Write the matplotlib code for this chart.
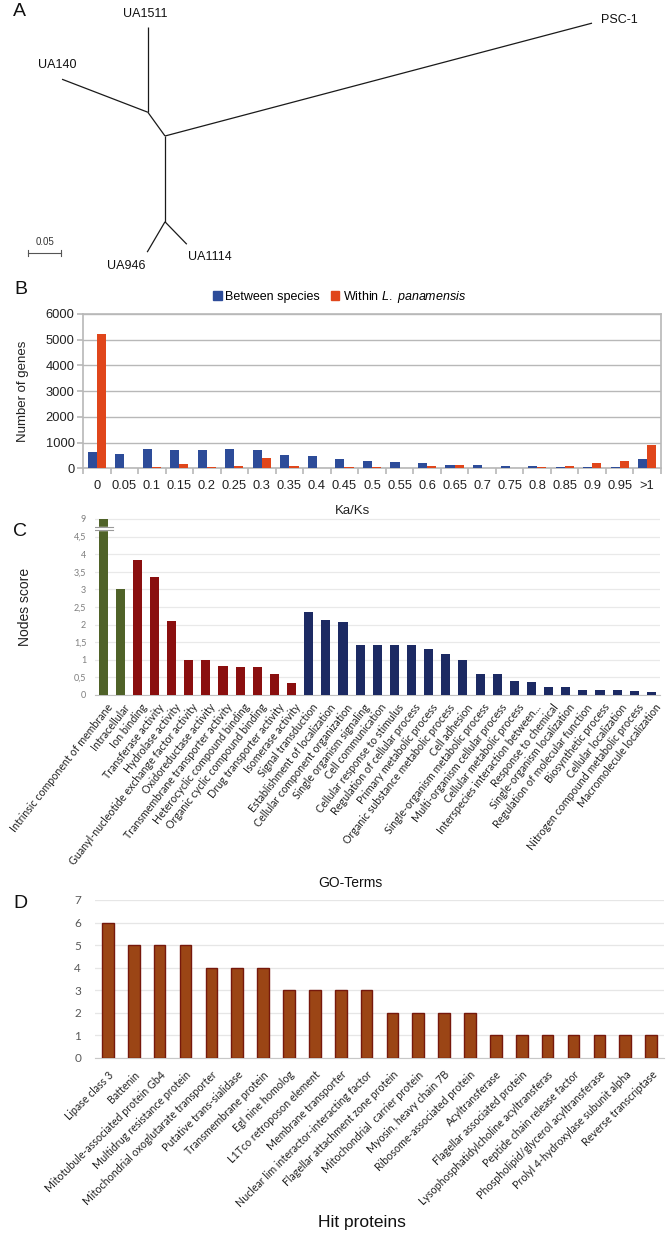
import matplotlib
matplotlib.use('Agg')
import matplotlib.pyplot as plt
import matplotlib.transforms as mtransforms
from matplotlib.patches import Patch
import numpy as np

W, H, DPI = 666, 1235, 100
plt.rcParams['font.family'] = ['Liberation Sans', 'DejaVu Sans']
plt.rcParams['mathtext.fontset'] = 'custom'
plt.rcParams['mathtext.it'] = 'Liberation Sans:italic'
plt.rcParams['mathtext.rm'] = 'Liberation Sans'

# ---------------- data ----------------
# Panel A: unrooted tree (node coordinates in substitutions/site)
tree_names = ['c', 'n1', 'UA1511', 'UA140', 'PSC-1', 'n3', 'UA946', 'UA1114']
tree_x = [0.0, -0.026, -0.026, -0.156, 0.647, 0.0, -0.027, 0.033]
tree_y = [0.0, 0.036, 0.165, 0.086, 0.171, -0.130, -0.176, -0.164]
tree_parent = [None, 'c', 'n1', 'n1', 'c', 'c', 'n3', 'n3']
scale_len = 0.05

# Panel B: Ka/Ks distribution
ks_labels = ['0', '0.05', '0.1', '0.15', '0.2', '0.25', '0.3', '0.35', '0.4', '0.45',
             '0.5', '0.55', '0.6', '0.65', '0.7', '0.75', '0.8', '0.85', '0.9', '0.95', '>1']
between = [640, 565, 735, 720, 715, 735, 700, 525, 490, 370,
           300, 230, 215, 150, 125, 90, 75, 70, 60, 35, 375]
within = [5230, 25, 70, 170, 45, 85, 400, 85, 12, 45,
          50, 25, 80, 115, 30, 12, 40, 110, 225, 300, 915]

# Panel C: GO term node scores
go_terms = ['Intrinsic component of membrane', 'Intracellular', 'Ion binding',
            'Transferase activity', 'Hydrolase activity',
            'Guanyl-nucleotide exchange factor activity', 'Oxidoreductase activity',
            'Transmembrane transporter activity', 'Heterocyclic compound binding',
            'Organic cyclic compound binding', 'Drug transporter activity',
            'Isomerase activity', 'Signal transduction', 'Establishment of localization',
            'Cellular component organization', 'Single organism signaling',
            'Cell communication', 'Cellular response to stimulus',
            'Regulation of cellular process', 'Primary metabolic process',
            'Organic substance metabolic process', 'Cell adhesion',
            'Single-organism metabolic process', 'Multi-organism cellular process',
            'Cellular metabolic process', 'Interspecies interaction between...',
            'Response to chemical', 'Single-organism localization',
            'Regulation of molecular function', 'Biosynthetic process',
            'Cellular localization', 'Nitrogen compound metabolic process',
            'Macromolecule localization']
go_scores = [9, 3.0, 3.84, 3.34, 2.11, 1.0, 1.0, 0.82, 0.8, 0.8, 0.6, 0.35,
             2.35, 2.14, 2.08, 1.42, 1.41, 1.42, 1.42, 1.3, 1.16, 1.0,
             0.6, 0.6, 0.4, 0.36, 0.22, 0.22, 0.14, 0.14, 0.13, 0.12, 0.08]
go_groups = ['CC'] * 2 + ['MF'] * 10 + ['BP'] * 21
go_ticks = [0, 0.5, 1, 1.5, 2, 2.5, 3, 3.5, 4, 4.5, 9]
go_ticklabels = ['0', '0,5', '1', '1,5', '2', '2,5', '3', '3,5', '4', '4,5', '9']

# Panel D: hit proteins
hit_proteins = ['Lipase class 3', 'Battenin', 'Mitotubule-associated protein Gb4',
                'Multidrug resistance protein', 'Mitochondrial oxoglutarate transporter',
                'Putative trans-sialidase', 'Transmembrane protein', 'Egl nine homolog',
                'L1Tco retroposon element', 'Membrane transporter',
                'Nuclear lim interactor-interacting factor',
                'Flagellar attachment zone protein', 'Mitochondrial  carrier protein',
                'Myosin, heavy chain 7B', 'Ribosome-associated protein', 'Acyltransferase',
                'Flagellar associated protein', 'Lysophosphatidylcholine acyltransferas',
                'Peptide chain release factor', 'Phospholipid/glycerol acyltransferase',
                'Prolyl 4-hydroxylase subunit alpha', 'Reverse transcriptase']
hit_counts = [6, 5, 5, 5, 4, 4, 4, 3, 3, 3, 3, 2, 2, 2, 2, 1, 1, 1, 1, 1, 1, 1]


def box(l, t, r, b):
    return [l / W, 1 - b / H, (r - l) / W, (b - t) / H]


fig = plt.figure(figsize=(W / DPI, H / DPI), dpi=DPI)
fig.patch.set_facecolor('white')

# ---------------- Panel A ----------------
axA = fig.add_axes([0, 0, 1, 1], zorder=-1)
px = 660.0  # pixels per unit
cx, cy = 165, 136
axA.set_xlim(-cx / px, (W - cx) / px)
axA.set_ylim(-(H - cy) / px, cy / px)
axA.axis('off')
idx = {n: i for i, n in enumerate(tree_names)}
for i, p in enumerate(tree_parent):
    if p is None:
        continue
    j = idx[p]
    axA.plot([tree_x[j], tree_x[i]], [tree_y[j], tree_y[i]], color='#1a1a1a', lw=0.9,
             solid_capstyle='butt')
label_off = {'UA1511': (-2, 9.5), 'UA140': (-3.6, 10), 'PSC-1': (20, 2.2),
             'UA946': (-15, -10), 'UA1114': (16.5, -9.4)}
for n, (ox, oy) in label_off.items():
    i = idx[n]
    axA.annotate(n, (tree_x[i], tree_y[i]), xytext=(ox, oy), textcoords='offset points',
                 ha='center', va='center', fontsize=9, color='#111111')
sb_x0 = (28 - cx) / px
sb_y = -(253 - cy) / px
axA.plot([sb_x0, sb_x0 + scale_len], [sb_y, sb_y], color='#555555', lw=0.8)
for xx in (sb_x0, sb_x0 + scale_len):
    axA.plot([xx, xx], [sb_y - 0.004, sb_y + 0.004], color='#555555', lw=0.8)
axA.annotate('0.05', (sb_x0 + scale_len / 2, sb_y), xytext=(0, 4), textcoords='offset points',
             ha='center', va='bottom', fontsize=7, color='#333333')

# panel letters
for letter, (lx, ly) in {'A': (19, 12), 'B': (21, 289), 'C': (20, 532), 'D': (20, 903)}.items():
    fig.text(lx / W, 1 - ly / H, letter, fontsize=14, ha='center', va='center', color='#111111')

# ---------------- Panel B ----------------
axB = fig.add_axes(box(83, 314, 661, 468.4))
xb = np.arange(len(ks_labels))
wb = 0.33
axB.bar(xb - wb / 2, between, wb, color='#2d4c99', zorder=3)
axB.bar(xb + wb / 2, within, wb, color='#e0461b', zorder=3)
axB.set_xlim(-0.5, len(xb) - 0.5)
axB.set_ylim(0, 6000)
axB.set_yticks(range(0, 6001, 1000))
axB.grid(axis='y', color='#b8b8b8', lw=1.0, zorder=0)
for s in axB.spines.values():
    s.set_color('#b8b8b8')
    s.set_linewidth(1.2)
axB.set_xticks(xb)
axB.set_xticklabels(ks_labels, fontsize=9.3, color='#222222')
axB.set_xticks(np.arange(-0.5, len(xb)), minor=True)
axB.tick_params(axis='x', which='major', length=0, pad=8)
axB.tick_params(axis='x', which='minor', length=4, color='#b8b8b8', width=1.2)
axB.tick_params(axis='y', length=4, color='#b8b8b8', width=1.2, labelsize=9.3,
                labelcolor='#222222', pad=2)
fig.text(23 / W, 1 - 391 / H, 'Number of genes', rotation=90, fontsize=9.5,
         ha='center', va='center', color='#222222')
fig.text(353 / W, 1 - 511 / H, 'Ka/Ks', fontsize=9.5, ha='center', va='center', color='#222222')
handles = [Patch(color='#2d4c99'), Patch(color='#e0461b')]
fig.legend(handles, ['Between species', r'Within $\mathit{L.\ panamensis}$'],
           loc='center', bbox_to_anchor=(340 / W, 1 - 297 / H), ncol=2, frameon=False,
           fontsize=9, handlelength=0.65, handleheight=0.65, handletextpad=0.3,
           columnspacing=0.9, borderaxespad=0)

# ---------------- Panel C ----------------
brk_low, brk_top = 4.5, 5.0


def broken(v):
    return v if v <= brk_low else brk_top


axC = fig.add_axes(box(94.5, 517.2, 660, 695))
xc = np.arange(len(go_terms))
group_colors = {'CC': '#4f6228', 'MF': '#8a0f0f', 'BP': '#1c2a63'}
axC.bar(xc, [broken(v) for v in go_scores], 0.53,
        color=[group_colors[g] for g in go_groups], zorder=3)
axC.set_xlim(-0.5, len(xc) - 0.5)
axC.set_ylim(0, 5.05)
axC.set_yticks([broken(v) for v in go_ticks])
axC.set_yticklabels(go_ticklabels, fontsize=6.5, color='#7f7f7f', family='Lato')
axC.grid(axis='y', color='#e9e9e9', lw=0.9, zorder=0)
for k in ('top', 'right', 'left'):
    axC.spines[k].set_visible(False)
axC.spines['bottom'].set_color('#c0c0c0')
axC.tick_params(axis='y', length=0, pad=6)
axC.tick_params(axis='x', length=0, pad=5)
axC.set_xticks(xc)
axC.set_xticklabels(go_terms, rotation=52, ha='right', rotation_mode='anchor',
                    fontsize=7.7, family='Lato', color='#222222')
shift = mtransforms.ScaledTranslation(3 / DPI, 0, fig.dpi_scale_trans)
for t in axC.get_xticklabels():
    t.set_transform(t.get_transform() + shift)
# axis break marks on bars above the break
for i, v in enumerate(go_scores):
    if v > brk_low:
        axC.fill_between([i - 0.6, i + 0.6], 4.69, 4.76, color='white', zorder=4)
        axC.plot([i - 0.6, i + 0.6], [4.69, 4.69], color='#9a9a9a', lw=0.8, zorder=5)
        axC.plot([i - 0.6, i + 0.6], [4.76, 4.76], color='#9a9a9a', lw=0.8, zorder=5)
fig.text(25 / W, 1 - 607 / H, 'Nodes score', rotation=90, fontsize=10,
         ha='center', va='center', color='#222222')
fig.text(350 / W, 1 - 883 / H, 'GO-Terms', fontsize=10, ha='center', va='center',
         color='#111111')

# ---------------- Panel D ----------------
axD = fig.add_axes(box(95, 900, 664, 1058))
xd = np.arange(len(hit_proteins))
axD.bar(xd, hit_counts, 0.45, color='#9b4515', edgecolor='#76180c', lw=1.0, zorder=3)
axD.set_xlim(-0.5, len(xd) - 0.5)
axD.set_ylim(0, 7)
axD.set_yticks(range(0, 8))
axD.set_yticklabels([str(v) for v in range(0, 8)], fontsize=8.5, color='#595959',
                    family='Lato')
axD.grid(axis='y', color='#e6e6e6', lw=0.9, zorder=0)
for k in ('top', 'right', 'left'):
    axD.spines[k].set_visible(False)
axD.spines['bottom'].set_color('#c8c8c8')
axD.tick_params(axis='y', length=0, pad=10)
axD.tick_params(axis='x', length=0, pad=8)
axD.set_xticks(xd)
axD.set_xticklabels(hit_proteins, rotation=45, ha='right', rotation_mode='anchor',
                    fontsize=7.7, family='Lato', color='#222222')
fig.text(362 / W, 1 - 1223 / H, 'Hit proteins', fontsize=12.5, ha='center', va='center',
         color='#111111')

fig.savefig('out.png', dpi=DPI, facecolor='white')
